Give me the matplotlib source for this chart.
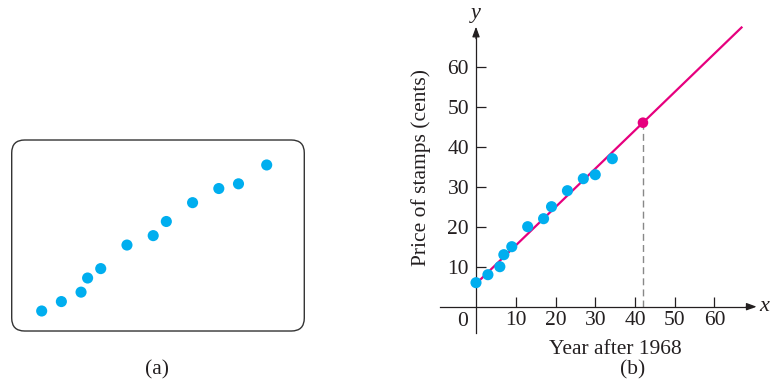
import matplotlib.pyplot as plt
from matplotlib.patches import FancyBboxPatch

plt.rcParams['font.family'] = ['Liberation Serif', 'DejaVu Serif']

# Stamp prices
years = [0, 3, 6, 7, 9, 13, 17, 19, 23, 27, 30, 34.3]
price = [6, 8, 10, 13, 15, 20, 22, 25, 29, 32, 33, 37]

# Fitted line endpoints and predicted point
fit_x = [0.5, 66.8]
fit_y = [6.2, 69.8]
pred_x, pred_y = 42, 46

x_ticks = [10, 20, 30, 40, 50, 60]
y_ticks = [10, 20, 30, 40, 50, 60]

dot_color = "#00aeef"
line_color = "#e6007e"
ink = "#231f20"
fs = 15.5

fig = plt.figure(figsize=(7.72, 3.84), dpi=100)

# ---- panel (a): bare scatter in a rounded box ----
ax_a = fig.add_axes([0.01516, 0.138, 0.379, 0.4974])
ax_a.scatter(years, price, s=64, color=dot_color, edgecolors="none", zorder=3)
ax_a.set_xlim(-4.57, 40.03)
ax_a.set_ylim(1.75, 42.3)
ax_a.axis("off")

box = FancyBboxPatch((0.01516, 0.138), 0.379, 0.4974,
                     boxstyle="round,pad=0,rounding_size=0.0168",
                     mutation_aspect=772 / 384, transform=fig.transFigure,
                     facecolor="none", edgecolor="#333333", linewidth=1.0)
fig.patches.append(box)
fig.text(157 / 772, 1 - 370 / 384, "(a)", ha="center", va="center",
         fontsize=fs, color=ink)

# ---- panel (b): scatter with fitted line ----
ax = fig.add_axes([0.5651, 0.118, 0.4222, 0.8646])
ax.set_xlim(-10, 72)
ax.set_ylim(-8, 75)

ax.plot(fit_x, fit_y, color=line_color, lw=1.6, zorder=2)
ax.scatter(years, price, s=64, color=dot_color, edgecolors="none", zorder=3)
ax.plot([pred_x, pred_x], [0, pred_y], color="#888888", lw=1.0,
        ls=(0, (5, 3)), zorder=1)
ax.scatter([pred_x], [pred_y], s=58, color=line_color, edgecolors="none", zorder=4)

for side in ["top", "right"]:
    ax.spines[side].set_visible(False)
ax.spines["left"].set_position(("data", 0))
ax.spines["bottom"].set_position(("data", 0))
ax.spines["left"].set_bounds(-6.7, 69)
ax.spines["bottom"].set_bounds(-9, 69.5)
for side in ["left", "bottom"]:
    ax.spines[side].set_linewidth(0.9)
    ax.spines[side].set_color(ink)

ax.annotate("", xy=(70.6, 0), xytext=(68, 0),
            arrowprops=dict(arrowstyle="-|>,head_length=0.6,head_width=0.22",
                            color=ink, lw=0.9, shrinkA=0, shrinkB=0))
ax.annotate("", xy=(0, 70), xytext=(0, 67),
            arrowprops=dict(arrowstyle="-|>,head_length=0.6,head_width=0.22",
                            color=ink, lw=0.9, shrinkA=0, shrinkB=0))

ax.set_xticks(x_ticks)
ax.set_yticks(y_ticks)
ax.tick_params(direction="in", length=7.5, width=0.9, color=ink,
               labelsize=fs, labelcolor=ink)
ax.tick_params(axis="x", pad=3)
ax.tick_params(axis="y", pad=5)
ax.text(-3.3, -1.3, "0", ha="center", va="top", fontsize=fs, color=ink)

ax.text(72.6, 0, "x", ha="center", va="center", fontsize=16,
        style="italic", color=ink)
ax.text(0, 73.3, "y", ha="center", va="center", fontsize=16,
        style="italic", color=ink)

fig.text(615 / 772, 1 - 350 / 384, "Year after 1968", ha="center",
         va="center", fontsize=fs, color=ink)
fig.text(633 / 772, 1 - 370 / 384, "(b)", ha="center", va="center",
         fontsize=fs, color=ink)
fig.text(421 / 772, 1 - 168 / 384, "Price of stamps (cents)", ha="center",
         va="center", rotation=90, fontsize=fs, color=ink)

fig.savefig("out.png", dpi=100)
